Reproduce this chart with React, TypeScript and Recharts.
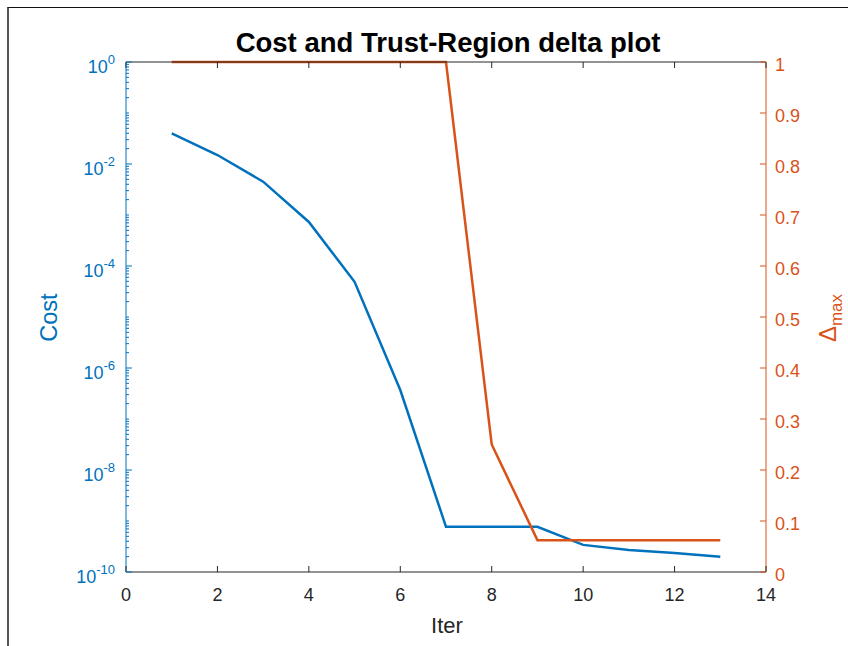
import React from "react";
import { LineChart, Line, XAxis, YAxis } from "recharts";

// Iteration numbers and per-iteration values
const iterations = [1, 2, 3, 4, 5, 6, 7, 8, 9, 10, 11, 12, 13];
const costValues = [
  0.04, 0.015, 0.0045, 7.3e-4, 4.9e-5, 3.7e-7, 7.7e-10, 7.7e-10, 7.7e-10,
  3.4e-10, 2.7e-10, 2.35e-10, 2.0e-10,
];
const deltaValues = [1, 1, 1, 1, 1, 1, 1, 0.25, 0.0625, 0.0625, 0.0625, 0.0625, 0.0625];

// Axis ticks
const iterTicks = [0, 2, 4, 6, 8, 10, 12, 14];
const costMajorExponents = [0, -2, -4, -6, -8, -10];
const costDecades = [-10, -9, -8, -7, -6, -5, -4, -3, -2, -1];
const minorMultipliers = [1, 2, 3, 4, 5, 6, 7, 8, 9];
const deltaTicks = [0, 0.1, 0.2, 0.3, 0.4, 0.5, 0.6, 0.7, 0.8, 0.9, 1];

const costTicks: number[] = [];
costDecades.forEach((d) =>
  minorMultipliers.forEach((m) => costTicks.push(m * Math.pow(10, d)))
);
costTicks.push(1);

const data = iterations.map((it, i) => ({
  iter: it,
  cost: costValues[i],
  delta: deltaValues[i],
}));

const BLUE = "#0072BD";
const ORANGE = "#D95319";
const DARK = "#262626";
const FONT = '"Liberation Sans", Arial, Helvetica, sans-serif';

const W = 848;
const H = 646;
const PLOT_LEFT = 126;
const PLOT_RIGHT = 766;
const PLOT_TOP = 62;
const PLOT_BOTTOM = 572;
const TOP_AXIS_H = 2;

const CostTick = (props: any) => {
  const { x, y, payload } = props;
  const v: number = payload.value;
  const lg = Math.log10(v);
  const e = Math.round(lg);
  const isDecade = Math.abs(lg - e) < 1e-6;
  const isMajor = isDecade && costMajorExponents.includes(e);
  return (
    <g>
      <line x1={x} x2={x + (isMajor ? 6 : 3)} y1={y} y2={y} stroke={BLUE} strokeWidth={1} />
      {isMajor && (
        <text x={x - 11} y={y + 11} textAnchor="end" fill={BLUE} fontFamily={FONT} fontSize={18}>
          <tspan>10</tspan>
          <tspan dy={-9} fontSize={13}>{String(e)}</tspan>
        </text>
      )}
    </g>
  );
};

const DeltaTick = (props: any) => {
  const { x, y, payload } = props;
  return (
    <g>
      <line x1={x - 6} x2={x} y1={y} y2={y} stroke={ORANGE} strokeWidth={1} />
      <text x={x + 9} y={y + 8.5} textAnchor="start" fill={ORANGE} fontFamily={FONT} fontSize={18}>
        {String(payload.value)}
      </text>
    </g>
  );
};

const IterTick = (props: any) => {
  const { x, y, payload } = props;
  return (
    <g>
      <line x1={x} x2={x} y1={y} y2={y - 6} stroke={DARK} strokeWidth={1} />
      <text x={x} y={y + 28.5} textAnchor="middle" fill={DARK} fontFamily={FONT} fontSize={18}>
        {String(payload.value)}
      </text>
    </g>
  );
};

const TopTick = (props: any) => {
  const { x } = props;
  return <line x1={x} x2={x} y1={PLOT_TOP} y2={PLOT_TOP + 6} stroke={DARK} strokeWidth={1} />;
};

const TitleLabel = () => (
  <text
    x={(PLOT_LEFT + PLOT_RIGHT) / 2 + 2}
    y={52}
    textAnchor="middle"
    fill="#000"
    fontFamily={FONT}
    fontWeight="bold"
    fontSize={27.5}
  >
    Cost and Trust-Region delta plot
  </text>
);

const IterLabel = () => (
  <text x={447} y={633} textAnchor="middle" fill={DARK} fontFamily={FONT} fontSize={22}>
    Iter
  </text>
);

const CostLabel = () => (
  <text
    x={57}
    y={317.5}
    textAnchor="middle"
    fill={BLUE}
    fontFamily={FONT}
    fontSize={23.5}
    transform="rotate(-90 57 317.5)"
  >
    Cost
  </text>
);

const DeltaLabel = () => (
  <text
    x={835.5}
    y={318}
    textAnchor="middle"
    fill={ORANGE}
    fontFamily={FONT}
    fontSize={24}
    transform="rotate(-90 835.5 318)"
  >
    <tspan>Δ</tspan>
    <tspan dy={6} fontSize={17}>max</tspan>
  </text>
);

export default function App() {
  return (
    <div
      style={{
        position: "fixed",
        left: 0,
        top: 0,
        width: W,
        height: H,
        background: "#fff",
      }}
    >
      <div
        style={{
          position: "absolute",
          left: 7,
          top: 7,
          right: 0,
          bottom: 0,
          borderLeft: "2px solid #555",
          borderTop: "1px solid #111",
        }}
      />
      <div style={{ position: "absolute", left: 0, top: 0 }}>
        <LineChart
          width={W}
          height={H}
          data={data}
          margin={{ top: PLOT_TOP - TOP_AXIS_H, left: 0, right: 0, bottom: 0 }}
        >
          <XAxis
            xAxisId="top"
            orientation="top"
            dataKey="iter"
            type="number"
            domain={[0, 14]}
            ticks={iterTicks}
            interval={0}
            height={TOP_AXIS_H}
            tickSize={0}
            tickMargin={0}
            tickLine={false}
            axisLine={{ stroke: DARK, strokeWidth: 1 }}
            tick={<TopTick />}
            label={<TitleLabel />}
          />
          <XAxis
            xAxisId="bottom"
            dataKey="iter"
            type="number"
            domain={[0, 14]}
            ticks={iterTicks}
            interval={0}
            height={H - PLOT_BOTTOM}
            tickSize={0}
            tickMargin={0}
            tickLine={false}
            axisLine={{ stroke: DARK, strokeWidth: 1 }}
            tick={<IterTick />}
            label={<IterLabel />}
          />
          <YAxis
            yAxisId="cost"
            orientation="left"
            scale="log"
            domain={[1e-10, 1]}
            allowDataOverflow
            ticks={costTicks}
            interval={0}
            width={PLOT_LEFT}
            tickSize={0}
            tickMargin={0}
            tickLine={false}
            axisLine={{ stroke: BLUE, strokeWidth: 1 }}
            tick={<CostTick />}
            label={<CostLabel />}
          />
          <YAxis
            yAxisId="delta"
            orientation="right"
            type="number"
            domain={[0, 1]}
            ticks={deltaTicks}
            interval={0}
            width={W - PLOT_RIGHT}
            tickSize={0}
            tickMargin={0}
            tickLine={false}
            axisLine={{ stroke: ORANGE, strokeWidth: 1 }}
            tick={<DeltaTick />}
            label={<DeltaLabel />}
          />
          <Line
            xAxisId="bottom"
            yAxisId="cost"
            dataKey="cost"
            type="linear"
            stroke={BLUE}
            strokeWidth={2.5}
            dot={false}
            isAnimationActive={false}
          />
          <Line
            xAxisId="bottom"
            yAxisId="delta"
            dataKey="delta"
            type="linear"
            stroke={ORANGE}
            strokeWidth={2.5}
            dot={false}
            isAnimationActive={false}
          />
        </LineChart>
      </div>
    </div>
  );
}
